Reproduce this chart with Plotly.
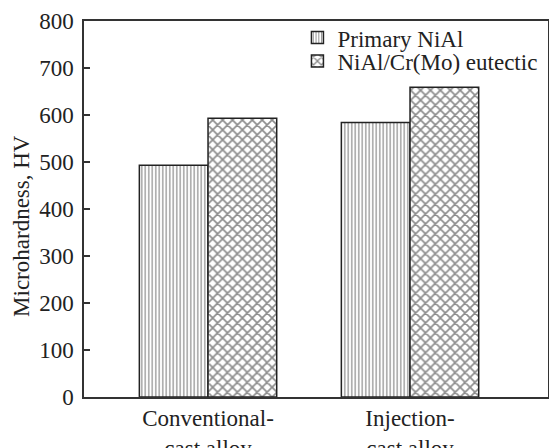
import plotly.graph_objects as go

categories = ["Conventional-<br>cast alloy", "Injection-<br>cast alloy"]
primary_nial = [493, 584]
eutectic = [593, 659]
series_names = ["Primary NiAl", "NiAl/Cr(Mo) eutectic"]
y_ticks = [0, 100, 200, 300, 400, 500, 600, 700, 800]
y_title = "Microhardness, HV"

FONT = "Liberation Serif, Times New Roman, serif"
FS = 23

fig = go.Figure()
fig.add_trace(go.Bar(
    x=categories, y=primary_nial, name=series_names[0], legend="legend",
    marker=dict(color="white", line=dict(color="#222", width=1.5),
                pattern=dict(shape="|", size=3.5, solidity=0.35,
                             fgcolor="#1a1a1a", bgcolor="white", fillmode="overlay")),
))
fig.add_trace(go.Bar(
    x=categories, y=eutectic, name=series_names[1], legend="legend2",
    marker=dict(color="white", line=dict(color="#222", width=1.5),
                pattern=dict(shape="x", size=7, solidity=0.42,
                             fgcolor="#1a1a1a", bgcolor="white", fillmode="overlay")),
))

fig.update_layout(
    width=549, height=448,
    margin=dict(l=84, r=1, t=21, b=51),
    barmode="group", bargap=0.32, bargroupgap=0,
    plot_bgcolor="white", paper_bgcolor="white",
    font=dict(family=FONT, size=FS, color="#222"),
    showlegend=True,
    legend=dict(x=0.46, y=1.013, xanchor="left", yanchor="top",
                bgcolor="rgba(0,0,0,0)", font=dict(size=FS), itemwidth=30),
    legend2=dict(x=0.46, y=0.9505, xanchor="left", yanchor="top",
                 bgcolor="rgba(0,0,0,0)", font=dict(size=FS), itemwidth=30),
    annotations=[dict(text=y_title, textangle=-90, xref="paper", yref="paper",
                      x=-0.1336, y=0.455, xanchor="center", yanchor="middle",
                      showarrow=False, font=dict(family=FONT, size=FS, color="#222"))],
)
fig.update_xaxes(
    range=[-0.614, 1.683], showline=True, linecolor="#333", linewidth=1.5,
    mirror=True, ticks="", showgrid=False, automargin=False,
    tickfont=dict(family=FONT, size=FS, color="#222"),
)
fig.update_yaxes(
    range=[0, 800], tickvals=y_ticks, ticktext=[str(v) for v in y_ticks],
    showline=True, linecolor="#333", linewidth=1.5, mirror=True,
    ticks="inside", ticklen=6, tickwidth=1.5, tickcolor="#333",
    showgrid=False, zeroline=False, ticklabelstandoff=4, automargin=False,
    tickfont=dict(family=FONT, size=FS, color="#222"),
)

fig.write_html("out.html", config={"displayModeBar": False},
               post_script="document.body.style.margin='0';document.body.style.overflow='hidden';")
